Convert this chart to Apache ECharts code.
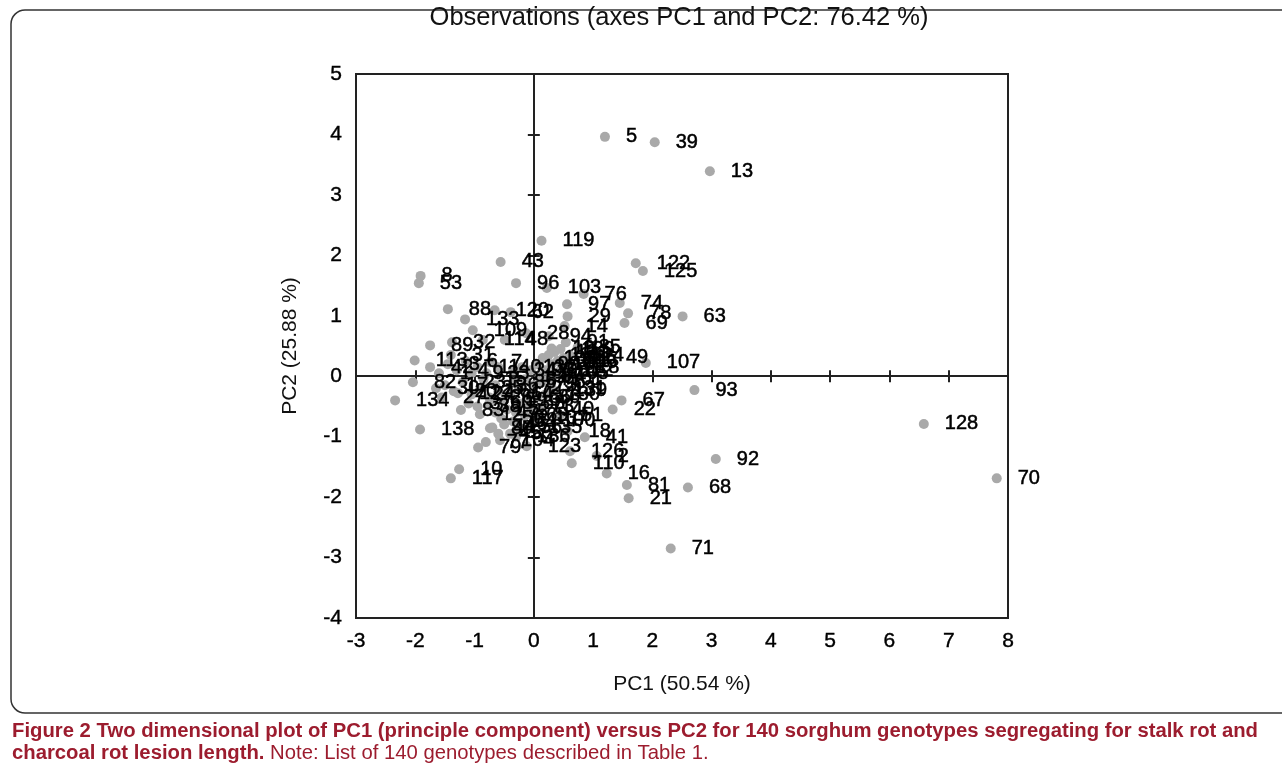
<!DOCTYPE html>
<html>
<head>
<meta charset="utf-8">
<script src="https://cdn.jsdelivr.net/npm/echarts@6/dist/echarts.min.js"></script>
<style>html,body{margin:0;padding:0;background:#fff}#c{width:1282px;height:766px}</style>
</head>
<body>
<div id="c"></div>
<script>
// ---- data ----
const genotypes = [
  5,39,13,119,122,125,43,8,53,96,
  103,76,74,78,69,63,88,133,120,62,
  109,114,48,28,94,97,29,14,19,91,
  35,106,49,107,93,139,67,22,100,51,
  18,41,123,104,126,2,110,16,81,21,
  92,68,71,128,70,89,32,113,7,82,
  134,83,138,10,117,127,12,79,80,77,
  34,1,3,4,6,9,11,15,17,20,
  23,24,25,26,27,30,31,33,36,37,
  38,40,42,44,45,46,47,50,52,54,
  55,56,57,58,59,60,61,64,65,66,
  72,73,75,84,85,86,87,90,95,98,
  99,101,102,105,108,111,112,115,116,118,
  121,124,129,130,131,132,135,136,137,140
];
const pc1 = [
  1.20, 2.04, 2.97, 0.13, 1.72, 1.84, -0.56, -1.91, -1.94, -0.30,
  0.22, 0.84, 1.45, 1.59, 1.53, 2.51, -1.45, -1.16, -0.66, -0.39,
  -1.03, -0.86, -0.49, -0.13, 0.25, 0.56, 0.57, 0.52, 0.30, 0.54,
  0.74, 0.49, 1.20, 1.89, 2.71, 0.32, 1.48, 1.33, 0.12, 0.44,
  0.57, 0.86, -0.12, -0.57, 0.61, 1.06, 0.64, 1.23, 1.57, 1.60,
  3.07, 2.60, 2.31, 6.58, 7.81, -1.75, -1.38, -2.01, -0.74, -2.04,
  -2.34, -1.23, -1.92, -1.26, -1.40, -1.28, -0.91, -0.94, -0.74, -0.81,
  -0.35, -1.60, -1.45, -1.30, -1.15, -1.05, -0.95, -0.85, -1.50, -1.35,
  -1.20, -1.05, -0.90, -0.75, -1.55, -1.65, -1.40, -0.80, -0.65, -1.10,
  -0.95, -0.60, -1.75, -0.70, -0.60, -0.50, -0.65, -0.55, -0.45, -0.35,
  -0.40, -0.25, -0.30, -0.20, -0.50, -0.75, -0.60, -0.40, -0.15, -0.10,
  -0.25, -0.05, 0.00, -0.15, -0.35, 0.05, 0.10, -0.05, 0.15, 0.20,
  0.05, 0.25, 0.30, 0.35, 0.15, 0.40, 0.45, 0.25, 0.50, 0.55,
  0.35, 0.60, 0.45, 0.20, 0.30, -0.20, -0.10, -0.30, 0.00, 0.10
];
const pc2 = [
  3.96, 3.87, 3.39, 2.24, 1.87, 1.74, 1.89, 1.66, 1.54, 1.54,
  1.46, 1.36, 1.21, 1.04, 0.88, 0.99, 1.11, 0.94, 1.09, 1.06,
  0.76, 0.60, 0.60, 0.71, 0.66, 1.19, 0.99, 0.83, 0.46, 0.56,
  0.48, 0.22, 0.31, 0.22, -0.23, -0.23, -0.40, -0.55, -0.73, -0.65,
  -0.91, -1.01, -1.16, -1.06, -1.24, -1.32, -1.44, -1.61, -1.80, -2.02,
  -1.37, -1.84, -2.85, -0.79, -1.69, 0.51, 0.56, 0.26, 0.23, -0.10,
  -0.40, -0.56, -0.88, -1.54, -1.69, -0.28, -0.63, -1.18, -0.86, -1.09,
  0.10, 0.05, 0.20, 0.10, 0.25, 0.05, 0.15, -0.05, -0.15, -0.25,
  -0.10, -0.30, -0.20, -0.35, -0.35, -0.20, 0.35, 0.05, -0.15, -0.45,
  -0.50, 0.15, 0.15, -0.85, -0.95, -0.80, -0.60, -0.70, -0.55, -0.75,
  -0.95, -0.85, -0.60, -0.45, -0.40, -0.45, -0.25, -0.30, -0.65, -0.35,
  -0.20, -0.50, -0.15, -0.05, -0.10, -0.35, 0.00, 0.10, -0.10, 0.10,
  0.20, -0.05, 0.20, 0.05, 0.30, 0.25, 0.10, 0.35, 0.30, 0.15,
  0.40, 0.35, 0.45, -0.30, -0.20, 0.15, -0.85, -1.00, -0.70, -0.55
];
const xRange = [-3, 8];
const yRange = [-4, 5];
const titleText = 'Observations (axes PC1 and PC2: 76.42 %)';
const xName = 'PC1 (50.54 %)';
const yName = 'PC2 (25.88 %)';
const captionBold1 = 'Figure 2 Two dimensional plot of PC1 (principle component) versus PC2 for 140 sorghum genotypes segregating for stalk rot and';
const captionBold2 = 'charcoal rot lesion length.';
const captionNote = ' Note: List of 140 genotypes described in Table 1.';

// ---- chart ----
const FONT = '"Liberation Sans", Arial, Helvetica, sans-serif';
const AX = '#222';
const RED = '#9c1c2e';
const chart = echarts.init(document.getElementById('c'));

function zeroX(inside) {
  return {
    type: 'value', min: xRange[0], max: xRange[1], interval: 1, position: 'bottom',
    axisLine: { show: true, onZero: true, lineStyle: { color: AX, width: 2 } },
    axisTick: { show: true, inside: inside, length: 6, lineStyle: { color: AX, width: 2 } },
    axisLabel: { show: false }, splitLine: { show: false }
  };
}
function zeroY(inside) {
  return {
    type: 'value', min: yRange[0], max: yRange[1], interval: 1, position: 'left',
    axisLine: { show: true, onZero: true, lineStyle: { color: AX, width: 2 } },
    axisTick: { show: true, inside: inside, length: 6, lineStyle: { color: AX, width: 2 } },
    axisLabel: { show: false }, splitLine: { show: false }
  };
}

const tickLabel = { fontSize: 21, color: '#000', margin: 14, fontFamily: FONT, textBorderColor: '#000', textBorderWidth: 0.4 };

chart.setOption({
  animation: false,
  backgroundColor: '#fff',
  grid: { left: 356, right: 274, top: 74, bottom: 148, show: true, borderColor: AX, borderWidth: 2, containLabel: false },
  xAxis: [
    {
      type: 'value', min: xRange[0], max: xRange[1], interval: 1, position: 'bottom',
      axisLine: { show: true, onZero: false, lineStyle: { color: AX, width: 2 } },
      axisTick: { show: false }, splitLine: { show: false },
      axisLabel: Object.assign({}, tickLabel, { margin: 13 }),
      name: xName, nameLocation: 'middle', nameGap: 56,
      nameTextStyle: { fontSize: 21, color: '#111', fontFamily: FONT }
    },
    zeroX(true), zeroX(false)
  ],
  yAxis: [
    {
      type: 'value', min: yRange[0], max: yRange[1], interval: 1, position: 'left',
      axisLine: { show: true, onZero: false, lineStyle: { color: AX, width: 2 } },
      axisTick: { show: false }, splitLine: { show: false },
      axisLabel: Object.assign({}, tickLabel, { margin: 14 }),
      name: yName, nameLocation: 'middle', nameGap: 55, nameRotate: 90,
      nameTextStyle: { fontSize: 21, color: '#111', fontFamily: FONT }
    },
    zeroY(true), zeroY(false)
  ],
  series: [{
    type: 'scatter', xAxisIndex: 0, yAxisIndex: 0,
    data: pc1.map((x, i) => [x, pc2[i], String(genotypes[i])]),
    symbolSize: 10,
    itemStyle: { color: '#a9a9a9', opacity: 1 },
    label: {
      show: true, position: 'right', distance: 16,
      formatter: p => p.data[2],
      fontSize: 20, color: '#000', fontFamily: FONT,
      textBorderColor: '#000', textBorderWidth: 0.5
    },
    emphasis: { disabled: true },
    z: 5
  }],
  graphic: [
    { type: 'rect', silent: true, z: -10, shape: { x: 11, y: 10, width: 1320, height: 703, r: 14 },
      style: { fill: 'none', stroke: '#333', lineWidth: 1.5 } },
    { type: 'text', silent: true, x: 679, y: 18,
      style: { text: titleText, fontSize: 25.5, fontFamily: FONT, fill: '#111', align: 'center', verticalAlign: 'middle' } },
    { type: 'text', silent: true, x: 12, y: 731,
      style: { text: captionBold1, fontSize: 20.3, fontWeight: 'bold', fontFamily: FONT, fill: RED, verticalAlign: 'middle' } },
    { type: 'text', silent: true, x: 12, y: 753,
      style: {
        text: '{b|' + captionBold2 + '}{n|' + captionNote + '}', verticalAlign: 'middle',
        rich: {
          b: { fontSize: 20.3, fontWeight: 'bold', fontFamily: FONT, fill: RED, color: RED },
          n: { fontSize: 20.3, fontWeight: 'normal', fontFamily: FONT, fill: RED, color: RED }
        }
      } }
  ]
});
</script>
</body>
</html>
